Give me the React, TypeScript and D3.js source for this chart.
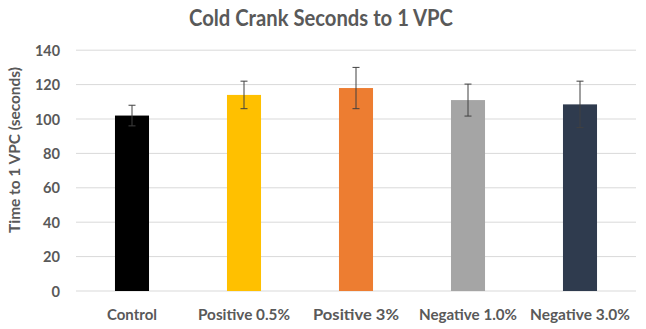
import React from "react";
import * as d3 from "d3";

const categories = ["Control", "Positive 0.5%", "Positive 3%", "Negative 1.0%", "Negative 3.0%"];
const values = [102, 114, 118, 111, 108.5];
const errors = [6, 8, 12, 9.3, 13.5];
const colors = ["#000000", "#FFC000", "#ED7D31", "#A5A5A5", "#2F3B4E"];
const yTicks = [0, 20, 40, 60, 80, 100, 120, 140];
const labelWidths = [50, 92, 86, 98, 100];

const W = 646, H = 329;
const left = 76, right = 636, top = 50.2, bottom = 291;
const font = "Lato, 'Open Sans', sans-serif";
const textColor = "#595959";

export default function App() {
  const x = d3.scaleBand<string>().domain(categories).range([left, right]).paddingInner(0.696).paddingOuter(0.348);
  const y = d3.scaleLinear().domain([0, 140]).range([bottom, top]);
  const bw = x.bandwidth();
  return (
    <svg width={W} height={H} style={{ position: "absolute", left: 0, top: 0, background: "#fff" }}>
      <rect x={0} y={0} width={W} height={H} fill="#fff" />
      <text x={321} y={25.5} textAnchor="middle" fontFamily={font} fontWeight="bold" fontSize={22} fill={textColor}
        textLength={264} lengthAdjust="spacingAndGlyphs">Cold Crank Seconds to 1 VPC</text>
      {yTicks.map((t) => (
        <g key={t}>
          <line x1={left} x2={right} y1={y(t)} y2={y(t)} stroke="#D9D9D9" strokeWidth={1} />
          <text x={60} y={y(t) + 5.5} textAnchor="end" fontFamily={font} fontWeight="bold" fontSize={16} fill={textColor}
            textLength={t === 0 ? 8.5 : t < 100 ? 17 : 25} lengthAdjust="spacingAndGlyphs">{t}</text>
        </g>
      ))}
      <text transform={`translate(19.5,150) rotate(-90)`} textAnchor="middle" fontFamily={font} fontWeight="bold" fontSize={15} fill={textColor}
        textLength={166} lengthAdjust="spacingAndGlyphs">Time to 1 VPC (seconds)</text>
      {categories.map((c, i) => {
        const x0 = x(c)!;
        const cx = x0 + bw / 2;
        return (
          <g key={c}>
            <rect x={x0} y={y(values[i])} width={bw} height={bottom - y(values[i])} fill={colors[i]} />
            <line x1={cx} x2={cx} y1={y(values[i] + errors[i])} y2={y(values[i] - errors[i])} stroke="#404040" strokeWidth={1} />
            <line x1={cx - 3.5} x2={cx + 3.5} y1={y(values[i] + errors[i])} y2={y(values[i] + errors[i])} stroke="#404040" strokeWidth={1} />
            <line x1={cx - 3.5} x2={cx + 3.5} y1={y(values[i] - errors[i])} y2={y(values[i] - errors[i])} stroke="#404040" strokeWidth={1} />
            <text x={cx} y={320} textAnchor="middle" fontFamily={font} fontWeight="bold" fontSize={16} fill={textColor}
              textLength={labelWidths[i]} lengthAdjust="spacingAndGlyphs">{c}</text>
          </g>
        );
      })}
    </svg>
  );
}
